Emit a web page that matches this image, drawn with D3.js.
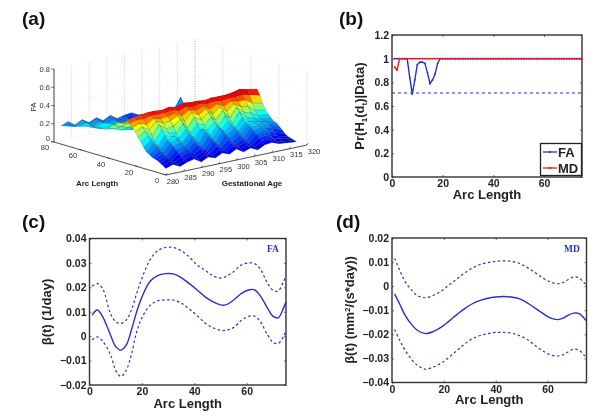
<!DOCTYPE html>
<html>
<head>
<meta charset="utf-8">
<script src="https://cdnjs.cloudflare.com/ajax/libs/d3/7.8.5/d3.min.js"></script>
<style>
body { margin: 0; background: #fff; }
svg { display: block; font-family: "Liberation Sans", Arial, sans-serif; filter: blur(0.4px); }
.tick text { font-weight: bold; font-size: 10.5px; fill: #222; }
.tick line { stroke: #333; stroke-width: 0.7; }
.domain { display: none; }
</style>
</head>
<body>
<div id="chart"></div>
<script>
// panel (a) surface
var gestAges = [280,282,284,286,288,290,292,294,296,298,300,302,304,306,308,310,312,314,317];
var arcRows = [0,2,4,6,8,10,12,14,16,18,20,22,24,26,28,30,33,37,42,48,55,62,70,75];
var faSurface = [
  [.07,.10,.06,.09,.11,.06,.10,.07,.11,.08,.12,.07,.10,.06,.10,.11,.08,.07,.06],
  [.09,.13,.08,.11,.14,.08,.12,.09,.14,.10,.15,.10,.12,.09,.13,.14,.10,.08,.07],
  [.11,.15,.09,.13,.17,.10,.14,.10,.17,.11,.17,.12,.14,.10,.16,.17,.12,.10,.08],
  [.13,.16,.10,.16,.19,.11,.16,.12,.20,.12,.20,.13,.17,.11,.19,.20,.15,.12,.09],
  [.14,.18,.11,.19,.21,.13,.19,.13,.22,.14,.24,.15,.20,.13,.22,.23,.18,.15,.11],
  [.15,.20,.13,.22,.24,.14,.22,.15,.25,.16,.27,.17,.23,.15,.25,.25,.21,.19,.14],
  [.17,.23,.16,.25,.27,.17,.25,.18,.28,.19,.30,.20,.26,.18,.27,.27,.24,.22,.17],
  [.19,.26,.19,.27,.30,.20,.28,.21,.31,.22,.31,.23,.28,.20,.28,.28,.26,.24,.20],
  [.23,.29,.21,.31,.28,.25,.33,.22,.29,.27,.34,.24,.32,.23,.33,.26,.25,.23,.21],
  [.28,.33,.25,.37,.31,.30,.38,.26,.35,.32,.39,.28,.37,.27,.38,.30,.28,.25,.24],
  [.32,.37,.31,.41,.35,.36,.42,.31,.41,.37,.43,.33,.42,.32,.42,.35,.33,.28,.27],
  [.37,.41,.36,.44,.40,.41,.45,.37,.45,.41,.46,.38,.45,.38,.45,.40,.39,.33,.31],
  [.41,.44,.41,.46,.44,.45,.47,.42,.47,.45,.48,.43,.47,.43,.47,.45,.45,.40,.37],
  [.45,.47,.46,.48,.48,.48,.49,.47,.50,.48,.50,.48,.49,.48,.49,.49,.50,.48,.45],
  [.47,.49,.50,.51,.51,.50,.52,.50,.53,.52,.52,.51,.52,.52,.52,.53,.55,.53,.51],
  [.44,.46,.47,.47,.47,.46,.48,.47,.49,.48,.48,.47,.49,.48,.49,.50,.52,.50,.47],
  [.42,.40,.38,.36,.34,.35,.35,.33,.35,.34,.33,.34,.35,.33,.34,.35,.36,.34,.32],
  [.38,.35,.32,.30,.27,.28,.27,.24,.26,.25,.23,.26,.24,.25,.22,.24,.23,.22,.20],
  [.33,.30,.27,.26,.24,.25,.23,.20,.22,.20,.17,.19,.17,.18,.19,.17,.18,.16,.14],
  [.30,.27,.31,.26,.28,.24,.25,.19,.20,.18,.15,.17,.16,.18,.19,.20,.37,.16,.13],
  [.28,.25,.29,.23,.27,.21,.24,.17,.18,.15,.17,.14,.16,.39,.16,.15,.16,.14,.12],
  [.25,.28,.22,.26,.20,.24,.18,.21,.17,.14,.16,.14,.15,.16,.14,.15,.13,.14,.11],
  [.22,.20,.25,.19,.23,.18,.22,.17,.19,.13,.15,.13,.14,.13,.14,.13,.14,.12,.11],
  [.20,.23,.18,.22,.17,.21,.16,.20,.15,.17,.18,.14,.13,.14,.13,.14,.12,.13,.10]
];
var arcTicks = [0,20,40,60,80];
var gaTicks = [280,285,290,295,300,305,310,315,320];
var zTicks = [0,0.2,0.4,0.6,0.8];

// panel (b)
var arcB = [1,2,3,4,5,6,7,8,9,10,11,12,13,14,15,16,17,18,19,20,21,22,23,24,25,26,27,28,29,30,31,32,33,34,35,36,37,38,39,40,41,42,43,44,45,46,47,48,49,50,51,52,53,54,55,56,57,58,59,60,61,62,63,64,65,66,67,68,69,70,71,72,73,74,75];
var prFA = [1,1,1,1,1,1,.84,.70,.82,.95,.97,.97,.96,.88,.79,.82,.87,.96,1,1,1,1,1,1,1,1,1,1,1,1,1,1,1,1,1,1,1,1,1,1,1,1,1,1,1,1,1,1,1,1,1,1,1,1,1,1,1,1,1,1,1,1,1,1,1,1,1,1,1,1,1,1,1,1,1];
var prMD = [.93,.905,1,1,1,1,1,1,1,1,1,1,1,1,1,1,1,1,1,1,1,1,1,1,1,1,1,1,1,1,1,1,1,1,1,1,1,1,1,1,1,1,1,1,1,1,1,1,1,1,1,1,1,1,1,1,1,1,1,1,1,1,1,1,1,1,1,1,1,1,1,1,1,1,1];
var prCutoff = 0.71;

// panel (c)
var arcC = [1,3,5,8,10,12,14,16,18,20,23,26,29,32,35,38,41,44,47,50,52,55,58,61,63,65,68,70,72,74,75];
var betaFA = [.0086,.0107,.008,.0005,-.0043,-.0057,-.0037,.0025,.01,.016,.0223,.0248,.0256,.0255,.024,.0216,.019,.0162,.0141,.0128,.0128,.0148,.0175,.019,.019,.0168,.0114,.0082,.0075,.0114,.0141];
var upperFA = [.0205,.0215,.0195,.0093,.0059,.0052,.0066,.0107,.0175,.0237,.0311,.035,.0363,.0363,.035,.0325,.0292,.0271,.0248,.0238,.0244,.0264,.0292,.03,.0297,.0278,.0216,.0189,.0185,.0223,.0248];
var lowerFA = [-.0015,-.0003,-.002,-.0075,-.014,-.0165,-.014,-.0075,.0018,.0075,.0125,.0145,.0148,.0148,.0135,.0112,.0085,.0055,.0035,.0024,.0024,.0035,.0065,.0082,.0082,.0062,.0005,-.0025,-.003,-.0003,.0025];

// panel (d)
var arcD = [1,3,5,8,10,13,16,19,22,25,28,31,34,37,40,43,46,49,52,55,58,61,64,66,68,70,72,74,75];
var betaMD = [-.0032,-.0075,-.012,-.0165,-.0185,-.0197,-.0188,-.017,-.0145,-.0118,-.0093,-.0073,-.0059,-.005,-.0045,-.0043,-.0045,-.0052,-.0068,-.009,-.0112,-.0132,-.0139,-.0133,-.012,-.0112,-.0113,-.0132,-.0145];
var upperMD = [.0115,.0065,.002,-.0022,-.004,-.0048,-.0038,-.002,.0005,.003,.0055,.0075,.009,.0098,.0103,.0105,.0103,.0095,.0078,.0058,.0035,.0018,.001,.0015,.0028,.0038,.0035,.0015,.0005];
var lowerMD = [-.018,-.0225,-.0265,-.031,-.033,-.0345,-.0335,-.032,-.0295,-.0268,-.024,-.0218,-.0205,-.0197,-.0192,-.0192,-.0195,-.0205,-.022,-.0245,-.0268,-.0285,-.029,-.0285,-.0272,-.0262,-.0265,-.0285,-.0298];

var blue = "#2a2fd0", red = "#f01818", ink = "#222";

var svg = d3.select("#chart").append("svg")
    .attr("width", 600)
    .attr("height", 418)
    .attr("viewBox", "0 0 600 418");

function panelLabel(txt, x, y){
    svg.append("text").attr("x", x).attr("y", y)
        .attr("font-size", 19).attr("font-weight", "bold").attr("fill", "#111")
        .text(txt);
}
panelLabel("(a)", 22, 25);
panelLabel("(b)", 339, 25);
panelLabel("(c)", 22, 228);
panelLabel("(d)", 336, 228);

// ---------- (a) oblique projection of the surface
var gaX = d3.scaleLinear().domain([280, 320]).range([0, 141]);
var gaY = d3.scaleLinear().domain([280, 320]).range([0, -30]);
var arcX = d3.scaleLinear().domain([0, 80]).range([0, -112]);
var arcY = d3.scaleLinear().domain([0, 80]).range([0, -33]);
var zY = d3.scaleLinear().domain([0, 0.8]).range([0, -73]);
var jet = d3.scaleLinear()
    .domain([0.04, 0.12, 0.29, 0.41, 0.5, 0.58])
    .range(["#00008f", "#0000ff", "#00ffff", "#ffff00", "#ff0000", "#800000"])
    .clamp(true);

function proj(g, a, z){
    return [166 + gaX(g) + arcX(a), 175 + gaY(g) + arcY(a) + zY(z)];
}

var g3 = svg.append("g");

// walls and floor grid
function seg(p, q, dash, col, w){
    g3.append("line")
        .attr("x1", p[0]).attr("y1", p[1]).attr("x2", q[0]).attr("y2", q[1])
        .attr("stroke", col).attr("stroke-width", w)
        .attr("stroke-dasharray", dash);
}
gaTicks.forEach(function(g){
    seg(proj(g, 80, 0), proj(g, 80, 0.8), "1,1.5", "#aaa", 0.6);
    seg(proj(g, 0, 0), proj(g, 80, 0), "1,2", "#e4e4e4", 0.5);
});
arcTicks.forEach(function(a){
    seg(proj(320, a, 0), proj(320, a, 0.8), "1,1.5", "#aaa", 0.6);
    seg(proj(280, a, 0), proj(320, a, 0), "1,2", "#e4e4e4", 0.5);
});
zTicks.forEach(function(z){
    seg(proj(280, 80, z), proj(320, 80, z), "1,2", "#e4e4e4", 0.5);
    seg(proj(320, 80, z), proj(320, 0, z), "1,2", "#e4e4e4", 0.5);
});

// quads painted back to front
var quads = [];
for (var r = arcRows.length - 2; r >= 0; r--) {
    for (var c = gestAges.length - 2; c >= 0; c--) {
        var zs = [faSurface[r][c], faSurface[r][c+1], faSurface[r+1][c+1], faSurface[r+1][c]];
        quads.push({
            pts: [
                proj(gestAges[c], arcRows[r], zs[0]),
                proj(gestAges[c+1], arcRows[r], zs[1]),
                proj(gestAges[c+1], arcRows[r+1], zs[2]),
                proj(gestAges[c], arcRows[r+1], zs[3])
            ],
            z: d3.mean(zs)
        });
    }
}
g3.selectAll(".quad")
    .data(quads).enter().append("path")
    .attr("class", "quad")
    .attr("d", function(d){ return "M" + d.pts.join("L") + "Z"; })
    .attr("fill", function(d){ return jet(d.z); })
    .attr("stroke", "#12302a")
    .attr("stroke-opacity", 0.5)
    .attr("stroke-width", 0.35);

// box edges and ticks
seg(proj(280, 80, 0), proj(280, 0, 0), null, "#222", 0.8);
seg(proj(280, 0, 0), proj(320, 0, 0), null, "#222", 0.8);
seg(proj(280, 80, 0), proj(280, 80, 0.8), null, "#222", 0.8);

function small(txt, p, anchor){
    g3.append("text").attr("x", p[0]).attr("y", p[1])
        .attr("font-size", 7.5).attr("fill", "#333")
        .attr("text-anchor", anchor).text(txt);
}
zTicks.forEach(function(z){
    var p = proj(280, 80, z);
    seg(p, [p[0] - 3, p[1]], null, "#222", 0.6);
    small(z, [p[0] - 4, p[1] + 2.5 - (z == 0 ? 3.5 : 0)], "end");
});
arcTicks.forEach(function(a){
    var p = proj(280, a, 0);
    seg(p, [p[0] - 3, p[1] - 1], null, "#222", 0.6);
    small(a, [p[0] - 9, p[1] + 8], "middle");
});
gaTicks.forEach(function(g){
    var p = proj(g, 0, 0);
    seg(p, [p[0] + 1, p[1] - 2], null, "#222", 0.6);
    small(g, [p[0] + 7, p[1] + 8.5], "middle");
});
g3.append("text").attr("transform", "translate(36,107) rotate(-90)")
    .attr("font-size", 7.5).attr("fill", "#333").attr("text-anchor", "middle").text("FA");
g3.append("text").attr("x", 97).attr("y", 186).attr("font-size", 8).attr("font-weight", "bold")
    .attr("fill", "#222").attr("text-anchor", "middle").text("Arc Length");
g3.append("text").attr("x", 252).attr("y", 186).attr("font-size", 8).attr("font-weight", "bold")
    .attr("fill", "#222").attr("text-anchor", "middle").text("Gestational Age");

// ---------- 2d panels
function panel(box, yDomain, xTicks, yTicks, yFmt){
    var g = svg.append("g");
    var x = d3.scaleLinear().domain([0, 75]).range([box.left, box.right]);
    var y = d3.scaleLinear().domain(yDomain).range([box.bottom, box.top]);
    g.append("g").attr("transform", "translate(0," + box.bottom + ")")
        .call(d3.axisBottom(x).tickValues(xTicks).tickSizeInner(-2).tickPadding(3).tickFormat(d3.format("d")));
    g.append("g").attr("transform", "translate(" + box.left + ",0)")
        .call(d3.axisLeft(y).tickValues(yTicks).tickSizeInner(-2).tickPadding(3).tickFormat(yFmt));
    g.append("g").attr("transform", "translate(0," + box.top + ")")
        .call(d3.axisTop(x).tickValues(xTicks).tickSizeInner(-2).tickFormat(""));
    g.append("g").attr("transform", "translate(" + box.right + ",0)")
        .call(d3.axisRight(y).tickValues(yTicks).tickSizeInner(-2).tickFormat(""));
    g.append("rect")
        .attr("x", box.left).attr("y", box.top)
        .attr("width", box.right - box.left).attr("height", box.bottom - box.top)
        .attr("fill", "none").attr("stroke", "#333").attr("stroke-width", 1.4);
    g.append("text")
        .attr("x", (box.left + box.right) / 2).attr("y", box.bottom + box.xLab)
        .attr("text-anchor", "middle").attr("font-size", 13).attr("font-weight", "bold")
        .attr("fill", ink).text("Arc Length");
    return {g: g, x: x, y: y};
}
function drawCurve(p, xs, ys, col, w, dash){
    var line = d3.line().x(function(d, i){ return p.x(xs[i]); })
        .y(function(d){ return p.y(d); }).curve(d3.curveCatmullRom);
    p.g.append("path").datum(ys).attr("d", line)
        .attr("fill", "none").attr("stroke", col).attr("stroke-width", w)
        .attr("stroke-dasharray", dash);
}
var fmtPlain = function(d){ return String(d); };
var fmtMinus = function(d){ return String(d).replace("-", "\u2212"); };

// (b)
var pb = panel({left: 392, right: 582, top: 35, bottom: 177, xLab: 22}, [0, 1.2], [0,20,40,60], [0,.2,.4,.6,.8,1,1.2], fmtPlain);
pb.g.append("line")
    .attr("x1", pb.x(0)).attr("x2", pb.x(75)).attr("y1", pb.y(prCutoff)).attr("y2", pb.y(prCutoff))
    .attr("stroke", blue).attr("stroke-width", 1).attr("stroke-dasharray", "3,3");
[[prFA, blue], [prMD, red]].forEach(function(s){
    var line = d3.line().x(function(d, i){ return pb.x(arcB[i]); }).y(function(d){ return pb.y(d); });
    pb.g.append("path").datum(s[0]).attr("d", line)
        .attr("fill", "none").attr("stroke", s[1]).attr("stroke-width", 1.4);
    pb.g.selectAll(".pt").data(s[0]).enter().append("circle")
        .attr("cx", function(d, i){ return pb.x(arcB[i]); })
        .attr("cy", function(d){ return pb.y(d); })
        .attr("r", 0.9).attr("fill", s[1]);
});
pb.g.append("rect").attr("x", 540.5).attr("y", 143.5).attr("width", 41).attr("height", 32)
    .attr("fill", "#fff").attr("stroke", "#222").attr("stroke-width", 1.3);
[["FA", blue, 152], ["MD", red, 168]].forEach(function(s){
    pb.g.append("line").attr("x1", 543).attr("x2", 557).attr("y1", s[2]).attr("y2", s[2])
        .attr("stroke", s[1]).attr("stroke-width", 1.3);
    pb.g.append("circle").attr("cx", 550).attr("cy", s[2]).attr("r", 1.1).attr("fill", s[1]);
    pb.g.append("text").attr("x", 558).attr("y", s[2] + 5).attr("font-size", 13)
        .attr("font-weight", "bold").attr("fill", ink).text(s[0]);
});
var yb = svg.append("text").attr("transform", "translate(364,106) rotate(-90)")
    .attr("text-anchor", "middle").attr("font-size", 13).attr("fill", ink).attr("font-weight", "bold");
yb.append("tspan").text("Pr(H");
yb.append("tspan").attr("font-size", 8).attr("dy", 3).text("1");
yb.append("tspan").attr("dy", -3).text("(d");
yb.append("tspan").attr("font-size", 8).attr("dy", 3).text("t");
yb.append("tspan").attr("dy", -3).text(")|Data)");

// (c)
var pc = panel({left: 89.5, right: 286, top: 238.5, bottom: 385, xLab: 22.5}, [-0.02, 0.04], [0,20,40,60], [-.02,-.01,0,.01,.02,.03,.04], fmtMinus);
drawCurve(pc, arcC, betaFA, blue, 1.4);
drawCurve(pc, arcC, upperFA, blue, 1.2, "2.5,2.5");
drawCurve(pc, arcC, lowerFA, blue, 1.2, "2.5,2.5");
svg.append("text").attr("x", 273).attr("y", 252).attr("text-anchor", "middle")
    .attr("font-family", "Liberation Serif, serif").attr("font-weight", "bold")
    .attr("font-size", 9.5).attr("fill", blue).text("FA");
svg.append("text").attr("transform", "translate(51,312) rotate(-90)")
    .attr("text-anchor", "middle").attr("font-size", 13).attr("font-weight", "bold")
    .attr("fill", ink).text("\u03b2(t) (1/day)");

// (d)
var pd = panel({left: 392, right: 586.5, top: 238, bottom: 382.5, xLab: 21.5}, [-0.04, 0.02], [0,20,40,60], [-.04,-.03,-.02,-.01,0,.01,.02], fmtMinus);
drawCurve(pd, arcD, betaMD, blue, 1.4);
drawCurve(pd, arcD, upperMD, blue, 1.2, "2.5,2.5");
drawCurve(pd, arcD, lowerMD, blue, 1.2, "2.5,2.5");
svg.append("text").attr("x", 572).attr("y", 252).attr("text-anchor", "middle")
    .attr("font-family", "Liberation Serif, serif").attr("font-weight", "bold")
    .attr("font-size", 9.5).attr("fill", blue).text("MD");
var yd = svg.append("text").attr("transform", "translate(354,310) rotate(-90)")
    .attr("text-anchor", "middle").attr("font-size", 13).attr("font-weight", "bold").attr("fill", ink);
yd.append("tspan").text("\u03b2(t) (mm");
yd.append("tspan").attr("font-size", 8).attr("dy", -4).text("2");
yd.append("tspan").attr("dy", 4).text("/(s*day))");
</script>
</body>
</html>
